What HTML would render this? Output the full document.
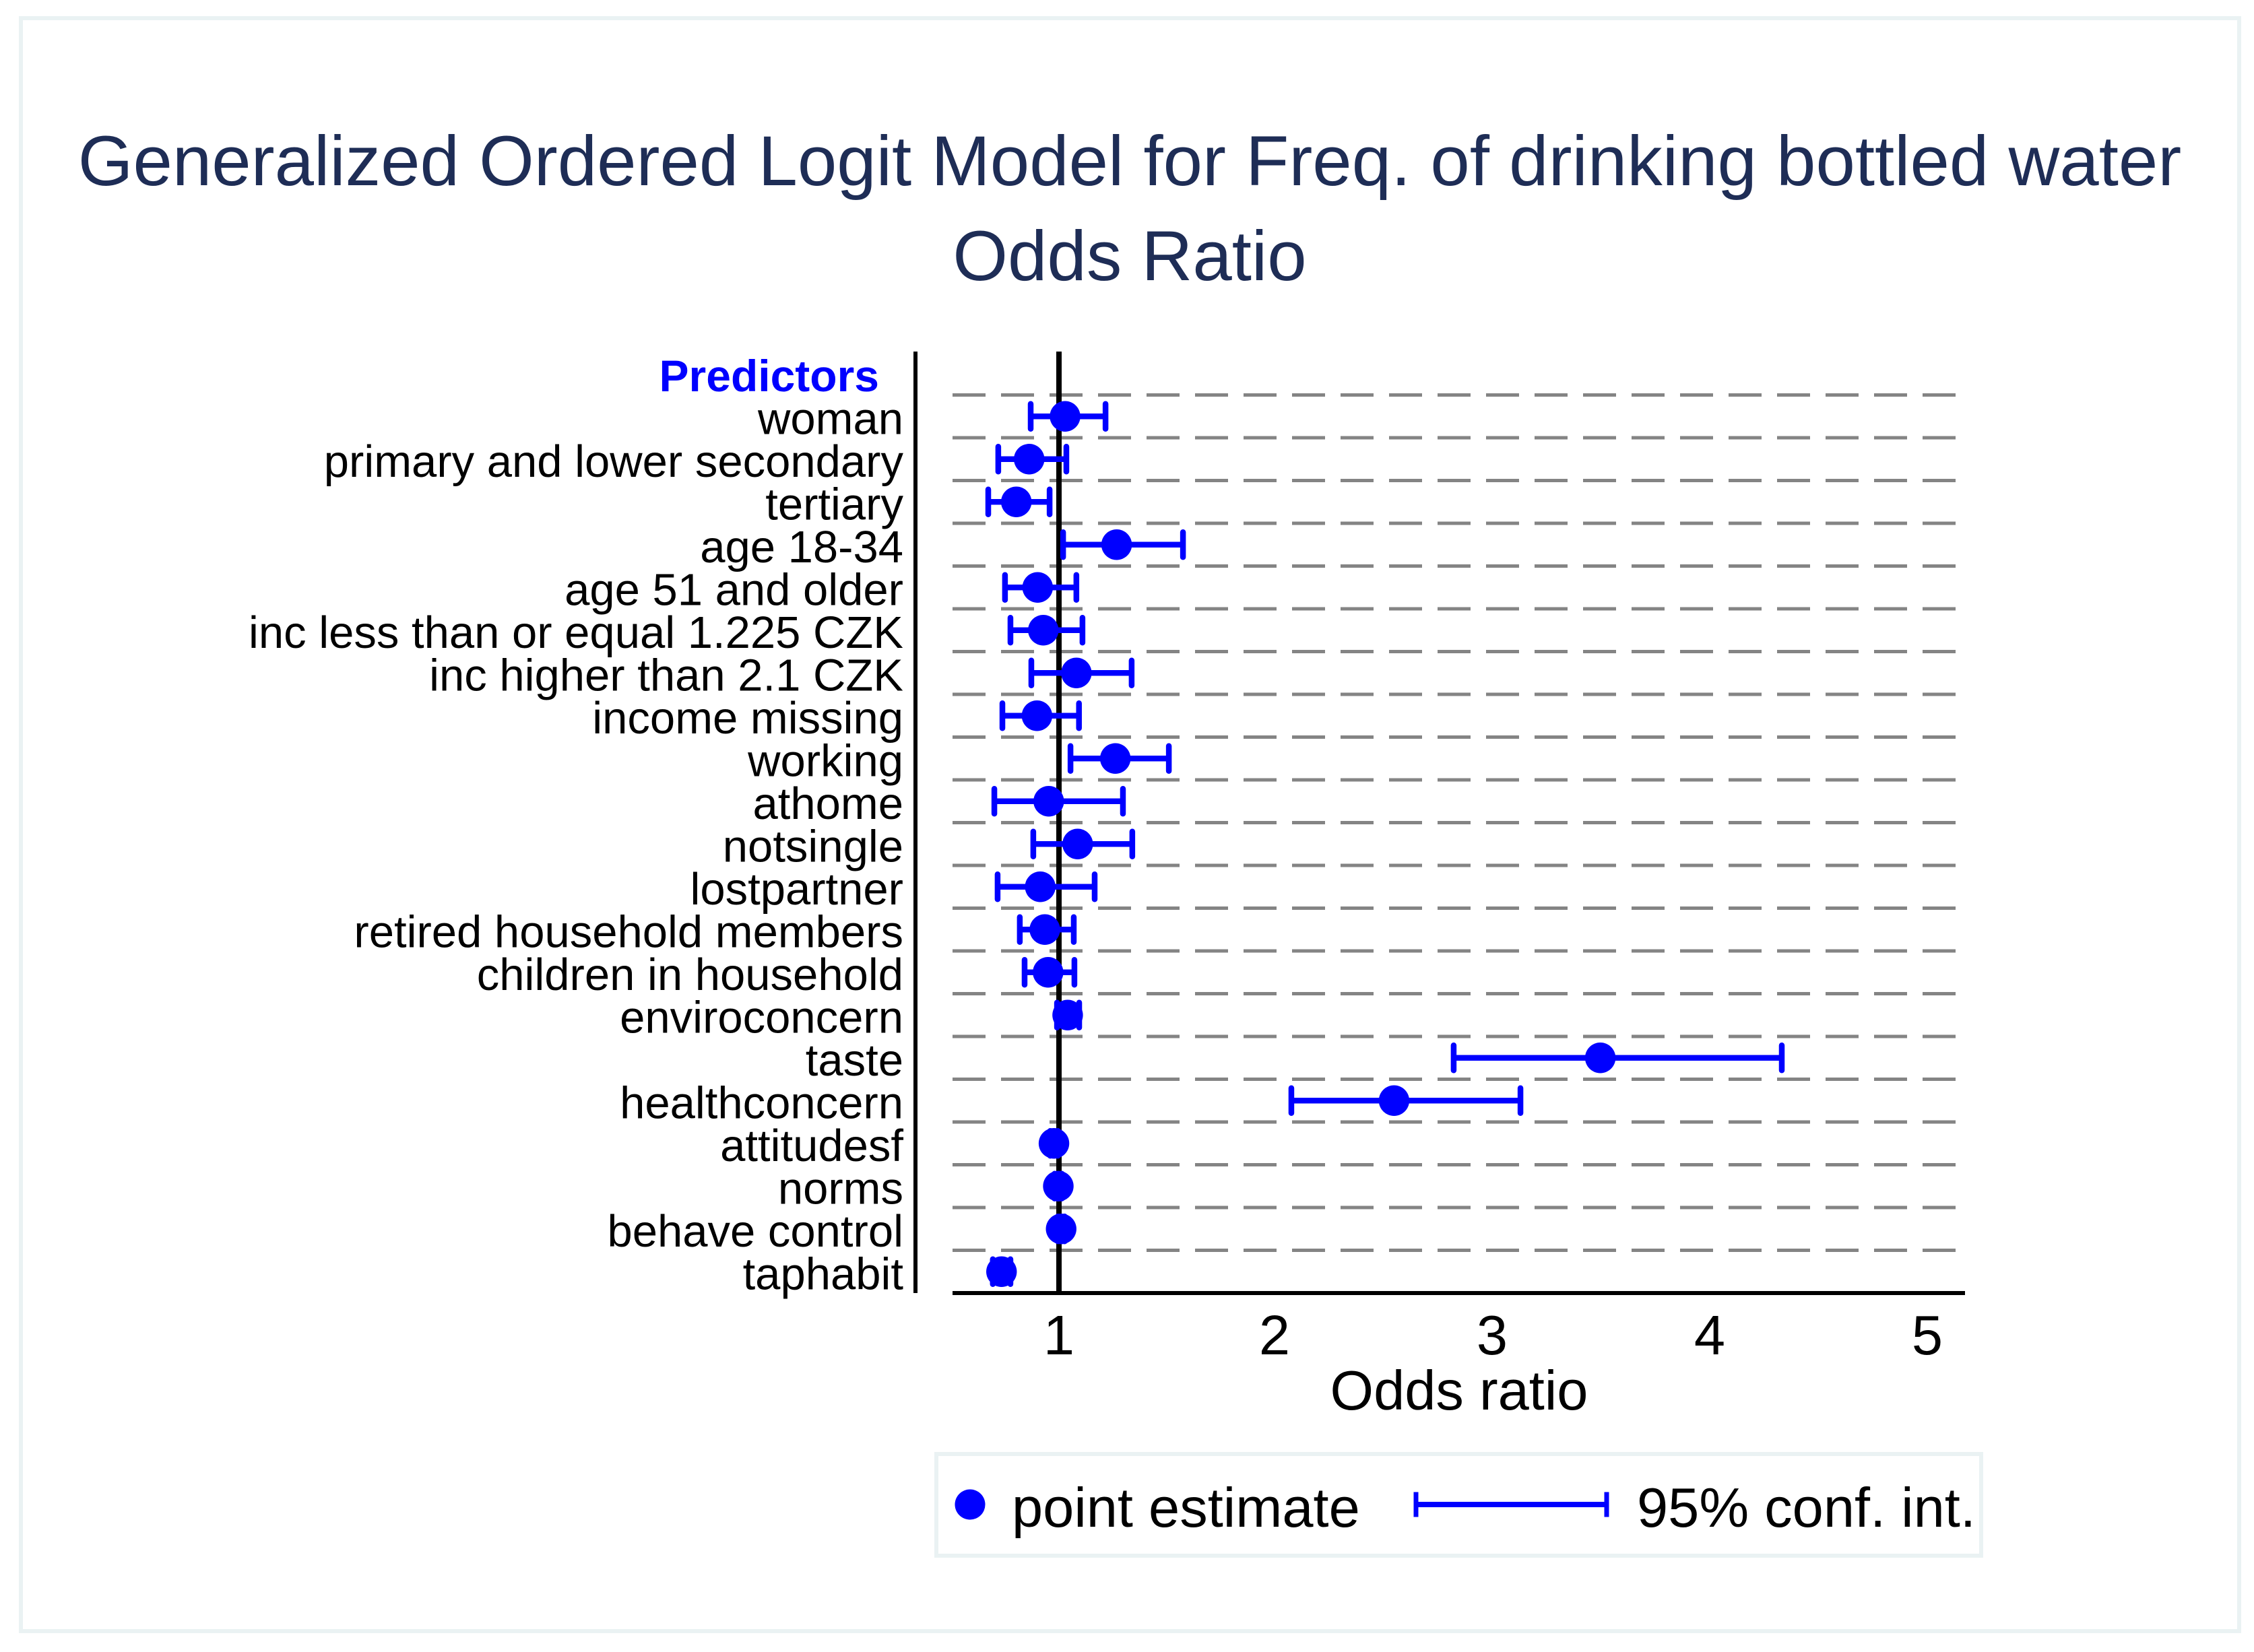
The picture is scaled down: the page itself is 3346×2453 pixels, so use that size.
<!DOCTYPE html>
<html lang="en">
<head>
<meta charset="utf-8">
<title>Generalized Ordered Logit Model for Freq. of drinking bottled water</title>
<style>
html,body{margin:0;padding:0;background:#fff;}
svg{display:block;}
text{font-family:"Liberation Sans",Arial,sans-serif;}
</style>
</head>
<body>
<svg id="chart" xmlns="http://www.w3.org/2000/svg" width="3346" height="2453" viewBox="0 0 3346 2453">
  <rect x="0" y="0" width="3346" height="2453" fill="#ffffff"/>
  <rect x="31" y="27" width="3293" height="2395" fill="#ffffff" stroke="#eaf2f3" stroke-width="6"/>
  <text x="1677" y="275" text-anchor="middle" font-size="105" fill="#1e2d56">Generalized Ordered Logit Model for Freq. of drinking bottled water</text>
  <text x="1677" y="416" text-anchor="middle" font-size="105" fill="#1e2d56">Odds Ratio</text>
  <g id="grid"></g>
  <line x1="1572" y1="522" x2="1572" y2="1920" stroke="#000" stroke-width="8"/>
  <line x1="1359" y1="522" x2="1359" y2="1920" stroke="#000" stroke-width="6"/>
  <line x1="1414" y1="1920" x2="2917" y2="1920" stroke="#000" stroke-width="6"/>
  <text x="1305" y="581" text-anchor="end" font-size="66" font-weight="bold" fill="#0000ff">Predictors</text>
  <g id="labels"></g>
  <g id="intervals"></g>
  <g id="points"></g>
  <g id="ticks"></g>
  <text x="2166" y="2093" text-anchor="middle" font-size="83" fill="#000">Odds ratio</text>
  <g>
    <rect x="1390" y="2159" width="1551" height="151" fill="#ffffff" stroke="#eaf2f3" stroke-width="6"/>
    <circle cx="1440" cy="2234" r="22.5" fill="#0000ff"/>
    <text x="1502" y="2267" font-size="83" fill="#000">point estimate</text>
    <g stroke="#0000ff">
      <line x1="2099" y1="2234" x2="2387" y2="2234" stroke-width="8"/>
      <line x1="2102" y1="2215.5" x2="2102" y2="2252.5" stroke-width="7"/>
      <line x1="2385" y1="2215.5" x2="2385" y2="2252.5" stroke-width="7"/>
    </g>
    <text x="2430" y="2267" font-size="83" fill="#000">95% conf. int.</text>
  </g>
</svg>
<script>
const categories = ["woman","primary and lower secondary","tertiary","age 18-34","age 51 and older","inc less than or equal 1.225 CZK","inc higher than 2.1 CZK","income missing","working","athome","notsingle","lostpartner","retired household members","children in household","enviroconcern","taste","healthconcern","attitudesf","norms","behave control","taphabit"];
const estimates = [1.028,0.863,0.804,1.265,0.902,0.928,1.080,0.899,1.259,0.953,1.086,0.914,0.935,0.950,1.040,3.488,2.540,0.977,0.997,1.010,0.736];
const lowerBounds = [0.870,0.721,0.675,1.019,0.752,0.777,0.873,0.740,1.053,0.703,0.882,0.718,0.820,0.842,0.991,2.814,2.068,0.960,0.980,0.995,0.696];
const upperBounds = [1.214,1.034,0.957,1.570,1.080,1.108,1.334,1.092,1.505,1.294,1.337,1.164,1.068,1.071,1.093,4.322,3.121,0.995,1.013,1.026,0.777];
const xTickValues = [1,2,3,4,5];

const NS = "http://www.w3.org/2000/svg";
function xScale(v){ return 1572 + (v - 1) * 323; }
function rowCenter(i){ return 618.25 + i * 63.5; }
function gridY(i){ return 586.5 + i * 63.5; }
function make(tag, attrs, parent){
  const el = document.createElementNS(NS, tag);
  for (const k in attrs) el.setAttribute(k, attrs[k]);
  parent.appendChild(el);
  return el;
}
const grid = document.getElementById("grid");
const labels = document.getElementById("labels");
const intervals = document.getElementById("intervals");
const points = document.getElementById("points");
const ticks = document.getElementById("ticks");

for (let i = 0; i <= categories.length - 1; i++) {
  const g = make("line", {x1:1414, x2:2903, y1:gridY(i), y2:gridY(i), stroke:"#848484", "stroke-width":5, "stroke-dasharray":"49 23", "shape-rendering":"crispEdges"}, grid);
  
  
}
categories.forEach(function(name, i){
  const y = rowCenter(i);
  const t = make("text", {x:1341, y:y + 26, "text-anchor":"end", "font-size":67, fill:"#000"}, labels);
  t.textContent = name;
  
  

  const lo = xScale(lowerBounds[i]), hi = xScale(upperBounds[i]), mid = xScale(estimates[i]);
  const ci = make("g", {stroke:"#0000ff", "stroke-width":8.5}, intervals);
  
  
  const bar = make("line", {x1:lo, x2:hi, y1:y, y2:y}, ci);
  
  
  const capLo = make("line", {x1:lo, x2:lo, y1:y - 18.5, y2:y + 18.5, "stroke-linecap":"round"}, ci);
  
  
  const capHi = make("line", {x1:hi, x2:hi, y1:y - 18.5, y2:y + 18.5, "stroke-linecap":"round"}, ci);
  
  

  const dot = make("circle", {cx:mid, cy:y, r:22.7, fill:"#0000ff"}, points);
  
  
});
xTickValues.forEach(function(v){
  const t = make("text", {x:xScale(v) - (v > 1 ? 3 : 0), y:2011, "text-anchor":"middle", "font-size":83, fill:"#000"}, ticks);
  t.textContent = String(v);
  
  
});
</script>
</body>
</html>
